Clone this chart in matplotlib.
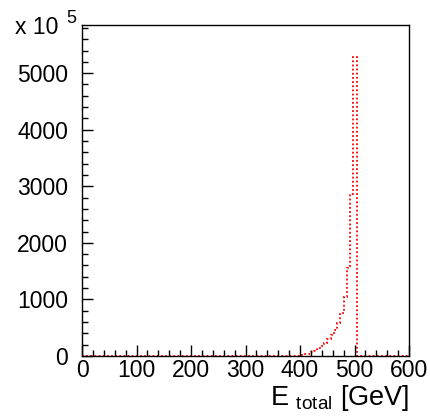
import numpy as np
import matplotlib
matplotlib.use("Agg")
from matplotlib import pyplot as plt
from matplotlib.ticker import MultipleLocator

plt.rcParams['font.family'] = ['Liberation Sans', 'DejaVu Sans']
plt.rcParams['mathtext.fontset'] = 'custom'
plt.rcParams['mathtext.rm'] = 'Liberation Sans'

# 100 bins of 6 GeV from 0 to 600
edges = np.arange(0, 601, 6)
# non-empty bins (lower edge -> content), everything else is 0
tail_low = [396, 402, 408, 414, 420, 426, 432, 438, 444, 450,
            456, 462, 468, 474, 480, 486, 492, 498]
tail_vals = [6, 12, 27, 44, 70, 97, 133, 177, 230, 300,
             371, 460, 583, 760, 1042, 1555, 2862, 5280]

counts = np.zeros(len(edges) - 1)
for lo, v in zip(tail_low, tail_vals):
    counts[lo // 6] = v

fig = plt.figure(figsize=(4.3, 4.18), dpi=100)
ax = fig.add_axes([0.1907, 0.1483, 0.7605, 0.7917])

ax.stairs(counts, edges, color='red', linestyle=(0, (1.0, 1.3)), linewidth=1.3)

ax.set_xlim(0, 600)
ax.set_ylim(0, 5850)
ax.xaxis.set_major_locator(MultipleLocator(100))
ax.xaxis.set_minor_locator(MultipleLocator(20))
ax.yaxis.set_major_locator(MultipleLocator(1000))
ax.yaxis.set_minor_locator(MultipleLocator(200))
ax.tick_params(which='both', direction='in', top=False, right=False,
               labelsize=16.5, width=1)
ax.tick_params(which='major', length=8)
ax.tick_params(which='minor', length=4)
ax.tick_params(axis='x', pad=2)
ax.tick_params(axis='y', pad=10)
for s in ax.spines.values():
    s.set_linewidth(1)

fig.text(0.035, 0.918, 'x 10', fontsize=16.5, ha='left', va='baseline')
fig.text(0.155, 0.945, '5', fontsize=13, ha='left', va='baseline')

fig.text(0.953, 0.03, r'E $_{\mathrm{total}}$ [GeV]', fontsize=19.5,
         ha='right', va='baseline')

plt.savefig('out.png', dpi=100)
